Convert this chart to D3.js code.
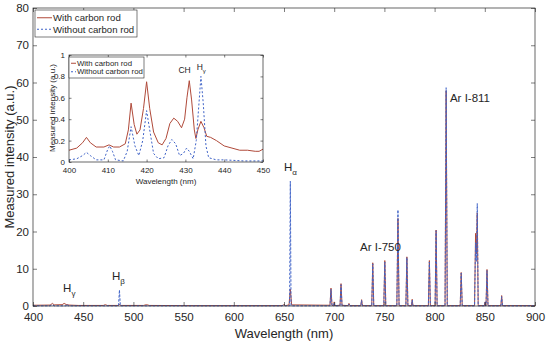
<!DOCTYPE html>
<html>
<head>
<meta charset="utf-8">
<script src="https://cdn.jsdelivr.net/npm/d3@7"></script>
<style>
  body { margin: 0; background: #fff; }
  text { font-family: "Liberation Sans", Arial, sans-serif; fill: #262626; }
</style>
</head>
<body>
<div id="chart"></div>
<script>
// main spectrum, [wavelength nm, intensity a.u.]
const withRod = [
  [400,0.2],[417,0.25],[419.5,0.7],[421,0.3],[429,0.35],[431,0.7],[433,0.4],[436,0.25],[445,0.15],
  [470,0.15],[472,0.35],[474,0.15],[485,0.15],[486.1,0.5],[487.2,0.15],[510,0.15],[513,0.35],[516,0.15],
  [560,0.1],[648,0.1],[650.5,0.4],[651.5,0.1],[655,0.3],[656.3,4.5],[657.6,0.3],
  [695.8,0.2],[696.8,4.8],[697.8,0.2],[699.4,0.1],[700,1.1],[700.6,0.1],[705.8,0.2],[706.8,6],[707.8,0.2],
  [713.7,0.1],[714.7,0.7],[715.7,0.1],[726.5,0.1],[727.3,1.7],[728.1,0.1],[737.4,0.1],[738.4,11.6],[739.4,0.1],
  [749.4,0.1],[750.4,12.2],[751.4,0.1],[762.4,0.1],[763.5,23.5],[764.6,0.1],[771.4,0.1],[772.4,13.2],[773.4,0.1],
  [777,0.1],[777.7,1.8],[778.4,0.1],[793.8,0.1],[794.8,12.2],[795.8,0.1],[800.5,0.1],[801.5,20.4],[802.5,0.1],
  [810.4,0.1],[811.5,57.8],[812.6,0.1],[825.5,0.1],[826.5,9],[827.5,0.1],[839.8,0.1],[840.8,19.5],[841.6,14],
  [842.5,25],[843.4,0.1],[849.6,0.1],[850.3,1.1],[850.9,0.1],[851.2,0.1],[852.2,9.8],[853.2,0.1],
  [866,0.1],[866.8,2.8],[867.6,0.1],[900,0.1]
];
const withoutRod = [
  [400,0.05],[417,0.05],[419.5,0.3],[421,0.05],[433,0.05],[434,0.5],[435,0.05],[470,0.05],
  [485.2,0.05],[486.1,4.3],[487,0.05],[648,0.05],[650.5,0.3],[651.5,0.05],[655.6,0.05],[656.3,33.5],[657,0.05],
  [695.8,0.05],[696.8,4.5],[697.8,0.05],[699.4,0.05],[700,0.9],[700.6,0.05],[705.8,0.05],[706.8,5.7],[707.8,0.05],
  [713.7,0.05],[714.7,0.5],[715.7,0.05],[726.5,0.05],[727.3,1.5],[728.1,0.05],[737.4,0.05],[738.4,11.3],[739.4,0.05],
  [749.4,0.05],[750.4,11.8],[751.4,0.05],[762.4,0.05],[763.5,25.8],[764.6,0.05],[771.4,0.05],[772.4,13],[773.4,0.05],
  [777,0.05],[777.7,1.6],[778.4,0.05],[793.8,0.05],[794.8,11.8],[795.8,0.05],[800.5,0.05],[801.5,20.2],[802.5,0.05],
  [810.4,0.05],[811.5,58.6],[812.6,0.05],[825.5,0.05],[826.5,8.8],[827.5,0.05],[839.8,0.05],[840.8,17],[841.6,12],
  [842.5,27.5],[843.4,0.05],[849.6,0.05],[850.3,0.9],[850.9,0.05],[851.2,0.05],[852.2,9.5],[853.2,0.05],
  [866,0.05],[866.8,2.5],[867.6,0.05],[900,0.05]
];

// inset, 400-450 nm zoom
const insetWith = [
  [400,0.11],[402,0.13],[403.5,0.18],[404.5,0.23],[405.5,0.18],[407,0.14],[409,0.14],[410.3,0.16],[411.5,0.14],
  [413,0.14],[414.5,0.17],[415.3,0.3],[416,0.55],[416.8,0.35],[417.5,0.26],[418.3,0.3],[419.2,0.5],[420,0.75],
  [420.8,0.5],[421.8,0.28],[423,0.18],[424,0.16],[425,0.22],[426,0.36],[427,0.41],[428,0.38],[429,0.32],
  [429.8,0.4],[430.4,0.6],[431,0.76],[431.6,0.58],[432.3,0.3],[432.7,0.22],[433.2,0.3],[434,0.38],[434.8,0.32],
  [435.5,0.24],[436.5,0.23],[438,0.2],[440,0.15],[442,0.13],[444,0.11],[446,0.11],[448,0.1],[449,0.1],[450,0.12]
];
const insetWithout = [
  [400,0.02],[402,0.03],[403.5,0.06],[404.5,0.09],[405.5,0.06],[407,0.02],[409,0.02],[410,0.12],[410.5,0.15],
  [411.2,0.1],[412,0.02],[414,0.01],[415,0.1],[416,0.33],[417,0.15],[418,0.06],[419,0.2],[420,0.48],[420.8,0.3],
  [421.8,0.08],[423,0.03],[424.5,0.04],[425.5,0.15],[426.5,0.21],[427.5,0.17],[428.5,0.06],[429.5,0.08],
  [430.3,0.13],[431,0.1],[432,0.03],[432.8,0.2],[433.5,0.55],[434,0.8],[434.6,0.55],[435.3,0.15],[436,0.04],
  [438,0.02],[440,0.02],[445,0.01],[450,0.01]
];

const xTicks = [400,450,500,550,600,650,700,750,800,850,900];
const yTicks = [0,10,20,30,40,50,60,70,80];
const insetXTicks = [400,410,420,430,440,450];
const insetYTicks = [0,0.2,0.4,0.6,0.8,1];
const seriesNames = ['With carbon rod', 'Without carbon rod'];

// [label, subscript, wavelength, intensity]
const mainNotes = [
  ['H', 'γ', 430, 3.8],
  ['H', 'β', 478.7, 7],
  ['H', 'α', 650, 36.2],
  ['Ar I-750', '', 725.7, 14.8],
  ['Ar I-811', '', 815.3, 54.8]
];
const insetNotes = [
  ['CH', '', 428.2, 0.83],
  ['H', 'γ', 432.9, 0.86]
];

const redColor = '#b04a3a';
const blueColor = '#3f63c8';

const svg = d3.select('#chart').append('svg')
  .attr('width', 550).attr('height', 344);

function drawAxes(g, x, y, xt, yt, fs, tickLen, pad, yFmt) {
  const [x0, x1] = x.range();
  const [y0, y1] = y.range();
  g.append('g').attr('transform', `translate(0,${y0})`)
    .call(d3.axisBottom(x).tickValues(xt).tickSizeInner(-tickLen).tickSizeOuter(0).tickPadding(pad))
    .call(a => a.select('.domain').remove());
  g.append('g').attr('transform', `translate(0,${y1})`)
    .call(d3.axisTop(x).tickValues(xt).tickSizeInner(-tickLen).tickSizeOuter(0).tickFormat(''))
    .call(a => a.select('.domain').remove());
  g.append('g').attr('transform', `translate(${x0},0)`)
    .call(d3.axisLeft(y).tickValues(yt).tickSizeInner(-tickLen).tickSizeOuter(0).tickPadding(4).tickFormat(yFmt))
    .call(a => a.select('.domain').remove());
  g.append('g').attr('transform', `translate(${x1},0)`)
    .call(d3.axisRight(y).tickValues(yt).tickSizeInner(-tickLen).tickSizeOuter(0).tickFormat(''))
    .call(a => a.select('.domain').remove());
  g.selectAll('.tick line').attr('stroke', '#262626').attr('stroke-width', 0.6);
  g.selectAll('.tick text').style('font-size', fs + 'px').attr('fill', '#262626')
    .style('font-family', '"Liberation Sans", Arial, sans-serif');
  g.append('rect')
    .attr('x', x0).attr('y', y1).attr('width', x1 - x0).attr('height', y0 - y1)
    .attr('fill', 'none').attr('stroke', '#262626').attr('stroke-width', 0.7);
}

function drawSeries(g, x, y, pts, color, dash, w) {
  const line = d3.line().x(d => x(d[0])).y(d => y(d[1]));
  g.append('path').datum(pts)
    .attr('d', line)
    .attr('fill', 'none')
    .attr('stroke', color)
    .attr('stroke-width', w)
    .attr('stroke-dasharray', dash);
}

function drawLegend(g, lx, ly, w, h, fs, lineLen) {
  g.append('rect').attr('x', lx).attr('y', ly).attr('width', w).attr('height', h)
    .attr('fill', '#fff').attr('stroke', '#262626').attr('stroke-width', 0.6);
  const row = (h - 4) / 2;
  seriesNames.forEach((name, i) => {
    const cy = ly + 2 + row * (i + 0.5);
    g.append('line').attr('x1', lx + 2).attr('x2', lx + 2 + lineLen)
      .attr('y1', cy).attr('y2', cy)
      .attr('stroke', i === 0 ? redColor : blueColor)
      .attr('stroke-width', 1)
      .attr('stroke-dasharray', i === 0 ? null : '2,2');
    g.append('text').attr('x', lx + 3 + lineLen).attr('y', cy)
      .attr('dy', '0.35em')
      .style('font-size', fs + 'px')
      .text(name);
  });
}

function drawNotes(g, x, y, notes, fs) {
  notes.forEach(n => {
    const t = g.append('text').attr('x', x(n[2])).attr('y', y(n[3]))
      .style('font-size', fs + 'px');
    t.append('tspan').text(n[0]);
    if (n[1]) {
      t.append('tspan').attr('dy', fs * 0.35).style('font-size', (fs * 0.7) + 'px').text(n[1]);
    }
  });
}

// main axes
const x = d3.scaleLinear().domain([400, 900]).range([33, 535]);
const y = d3.scaleLinear().domain([0, 80]).range([306, 8]);
const main = svg.append('g');

drawSeries(main, x, y, withRod, redColor, null, 1);
drawSeries(main, x, y, withoutRod, blueColor, '2.5,1.5', 1);
drawAxes(main, x, y, xTicks, yTicks, 11.5, 4, 7, d3.format('d'));
drawNotes(main, x, y, mainNotes, 11.5);

main.append('text').attr('x', 284).attr('y', 338)
  .attr('text-anchor', 'middle').style('font-size', '13px').text('Wavelength (nm)');
main.append('text').attr('transform', 'translate(14,157) rotate(-90)')
  .attr('text-anchor', 'middle').style('font-size', '13px').text('Measured intensity (a.u.)');

drawLegend(main, 35, 10, 102, 27, 9.6, 15);

// inset axes
const ix = d3.scaleLinear().domain([400, 450]).range([69, 263]);
const iy = d3.scaleLinear().domain([0, 1]).range([162, 55]);
const inset = svg.append('g');

inset.append('rect').attr('x', 69).attr('y', 55).attr('width', 194).attr('height', 107).attr('fill', '#fff');
drawSeries(inset, ix, iy, insetWith, redColor, null, 1);
drawSeries(inset, ix, iy, insetWithout, blueColor, '2,2', 1);
drawAxes(inset, ix, iy, insetXTicks, insetYTicks, 8, 2.5, 5, d3.format('~g'));
drawNotes(inset, ix, iy, insetNotes, 8.5);

inset.append('text').attr('x', 166).attr('y', 184)
  .attr('text-anchor', 'middle').style('font-size', '8px').text('Wavelength (nm)');
inset.append('text').attr('transform', 'translate(55,108) rotate(-90)')
  .attr('text-anchor', 'middle').style('font-size', '8px').text('Measured intensity (a.u.)');

drawLegend(inset, 69, 57, 75, 21, 7.8, 5);
</script>
</body>
</html>
